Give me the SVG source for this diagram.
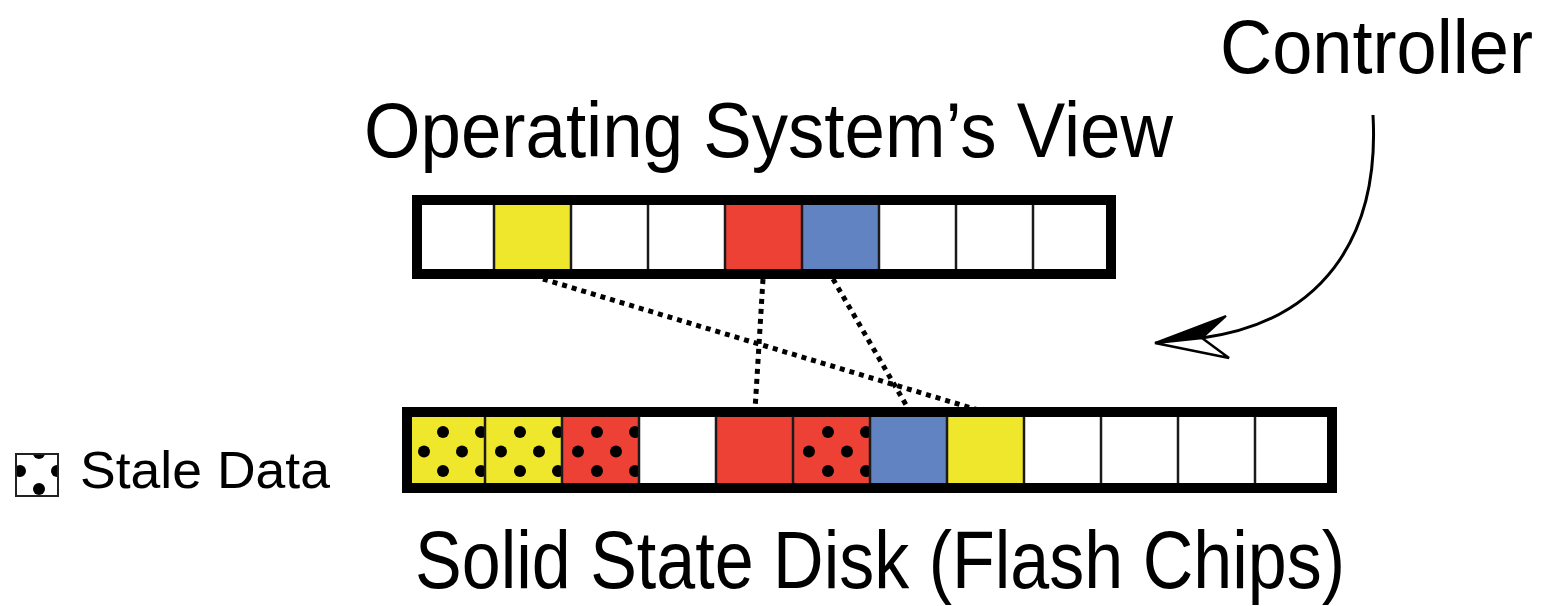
<svg xmlns="http://www.w3.org/2000/svg" width="1547" height="606" viewBox="0 0 1547 606">
<style>
  .lbl { font-family: "Liberation Sans", Arial, sans-serif; fill: #000; }
  .border { fill: none; stroke: #000; stroke-width: 10; }
  .sep { stroke: #1a1a1a; stroke-width: 2.5; }
  .yel { fill: #EFE72B; }
  .red { fill: #EE4136; }
  .blu { fill: #6283C2; }
  .dots { fill: url(#dots); }
  .map { fill: none; stroke: #000; stroke-width: 5; stroke-dasharray: 5 5; }
</style>
<defs>
  <pattern id="dots" patternUnits="userSpaceOnUse" x="408" y="422" width="77" height="39">
    <circle cx="35" cy="10" r="6" fill="#000"/>
    <circle cx="73" cy="10" r="6" fill="#000"/>
    <circle cx="16" cy="29.5" r="6" fill="#000"/>
    <circle cx="54" cy="29.5" r="6" fill="#000"/>
  </pattern>
  <clipPath id="legclip"><rect x="16" y="454" width="42" height="42"/></clipPath>
</defs>
<rect width="1547" height="606" fill="#fff"/>

<g id="connectors">
  <line class="map" x1="543" y1="279" x2="978" y2="410"/>
  <line class="map" x1="763" y1="279" x2="755" y2="410"/>
  <line class="map" x1="833" y1="279" x2="909" y2="410"/>
  <g id="controller-arrow">
    <path d="M1373,115 C1380,240 1320,322 1202,338" fill="none" stroke="#000" stroke-width="3"/>
    <path d="M1155,343 L1226,316 L1202,338 Z" fill="#000" stroke="#000" stroke-width="2" stroke-linejoin="miter"/>
    <path d="M1155,343 L1202,338 L1229,358 Z" fill="#fff" stroke="#000" stroke-width="2.5" stroke-linejoin="miter"/>
  </g>
</g>

<g id="os-view">
  <rect x="422" y="205" width="684" height="64" fill="#fff"/>
  <rect class="yel" x="494" y="205" width="77" height="64"/>
  <rect class="red" x="725" y="205" width="77" height="64"/>
  <rect class="blu" x="802" y="205" width="77" height="64"/>
  <g class="sep">
    <line x1="494" y1="205" x2="494" y2="269"/>
    <line x1="571" y1="205" x2="571" y2="269"/>
    <line x1="648" y1="205" x2="648" y2="269"/>
    <line x1="725" y1="205" x2="725" y2="269"/>
    <line x1="802" y1="205" x2="802" y2="269"/>
    <line x1="879" y1="205" x2="879" y2="269"/>
    <line x1="956" y1="205" x2="956" y2="269"/>
    <line x1="1033" y1="205" x2="1033" y2="269"/>
  </g>
  <rect class="border" x="417" y="200" width="694" height="74"/>
</g>

<g id="ssd">
  <rect x="412" y="417" width="915" height="66" fill="#fff"/>
  <rect class="yel" x="412" y="417" width="150" height="66"/>
  <rect class="red" x="562" y="417" width="77" height="66"/>
  <rect class="red" x="716" y="417" width="154" height="66"/>
  <rect class="blu" x="870" y="417" width="77" height="66"/>
  <rect class="yel" x="947" y="417" width="77" height="66"/>
  <rect class="dots" x="412" y="420" width="227" height="63"/>
  <rect class="dots" x="793" y="420" width="77" height="63"/>
  <g class="sep">
    <line x1="485" y1="417" x2="485" y2="483"/>
    <line x1="562" y1="417" x2="562" y2="483"/>
    <line x1="639" y1="417" x2="639" y2="483"/>
    <line x1="716" y1="417" x2="716" y2="483"/>
    <line x1="793" y1="417" x2="793" y2="483"/>
    <line x1="870" y1="417" x2="870" y2="483"/>
    <line x1="947" y1="417" x2="947" y2="483"/>
    <line x1="1024" y1="417" x2="1024" y2="483"/>
    <line x1="1101" y1="417" x2="1101" y2="483"/>
    <line x1="1178" y1="417" x2="1178" y2="483"/>
    <line x1="1255" y1="417" x2="1255" y2="483"/>
  </g>
  <rect class="border" x="407" y="412" width="925" height="76"/>
</g>

<g id="legend">
  <rect x="16" y="454" width="42" height="42" fill="#fff"/>
  <g clip-path="url(#legclip)" fill="#000">
    <circle cx="39" cy="453" r="6"/>
    <circle cx="20" cy="471" r="6"/>
    <circle cx="57" cy="471" r="6"/>
    <circle cx="39" cy="489" r="6"/>
  </g>
  <rect x="16" y="454" width="42" height="42" fill="none" stroke="#222" stroke-width="2"/>
  <text class="lbl" x="80" y="488" font-size="52" textLength="250" lengthAdjust="spacingAndGlyphs">Stale Data</text>
</g>

<g id="titles">
  <text id="controller-label" class="lbl" x="1220" y="73" font-size="76" textLength="313" lengthAdjust="spacingAndGlyphs">Controller</text>
  <text id="os-label" class="lbl" x="364" y="157" font-size="78" textLength="809" lengthAdjust="spacingAndGlyphs">Operating System’s View</text>
  <text id="ssd-label" class="lbl" x="415" y="588" font-size="82" textLength="930" lengthAdjust="spacingAndGlyphs">Solid State Disk (Flash Chips)</text>
</g>
</svg>
